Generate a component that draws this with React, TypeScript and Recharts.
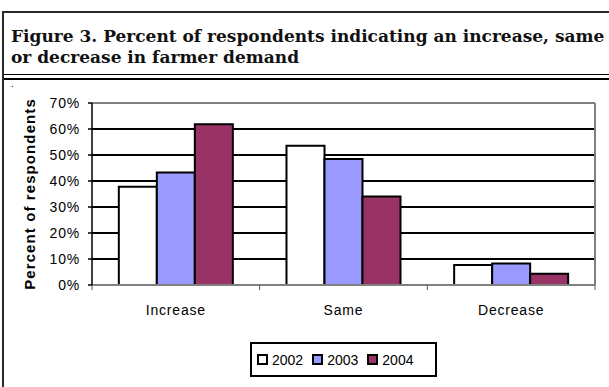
import {
  Bar,
  BarChart,
  CartesianGrid,
  Legend,
  ReferenceLine,
  XAxis,
  YAxis,
} from 'recharts'

const categories = ['Increase', 'Same', 'Decrease']
const years = ['2002', '2003', '2004']
const colors = ['#ffffff', '#9999ff', '#993366']
const values2002 = [37.8, 53.6, 7.7]
const values2003 = [43.3, 48.5, 8.3]
const values2004 = [61.8, 34, 4.3]
const yTicks = [0, 10, 20, 30, 40, 50, 60, 70]
const gridValues = [10, 20, 30, 40, 50, 60]

const data = categories.map((c, i) => ({
  category: c,
  y2002: values2002[i],
  y2003: values2003[i],
  y2004: values2004[i],
}))

const sans = '"Liberation Sans", Arial, sans-serif'
const serif = '"DejaVu Serif", serif'
const frameGray = '#808080'

// category label plus Excel-style tick marks on the band edges
function CategoryTick(props: any) {
  const { x, y, payload } = props
  const half = payload?.offset ?? 0
  const last = payload?.index === categories.length - 1
  return (
    <g>
      {half > 0 && <line x1={x - half} x2={x - half} y1={y} y2={y + 5} stroke="#555" />}
      {half > 0 && last && <line x1={x + half} x2={x + half} y1={y} y2={y + 5} stroke="#555" />}
      <text
        x={x}
        y={y + 30}
        textAnchor="middle"
        fill="#000"
        fontSize={14}
        fontFamily={sans}
        letterSpacing={0.8}
      >
        {payload?.value}
      </text>
    </g>
  )
}

function LegendBox({ payload }: { payload?: { value: string; color: string }[] }) {
  return (
    <div
      style={{
        boxSizing: 'border-box',
        width: 187,
        height: 35,
        border: '2px solid #000',
        background: '#fff',
        display: 'flex',
        alignItems: 'center',
        paddingLeft: 5,
        fontFamily: sans,
        fontSize: 14,
        color: '#000',
      }}
    >
      {(payload ?? []).map((p) => (
        <span key={p.value} style={{ display: 'flex', alignItems: 'center', marginRight: 9 }}>
          <span
            style={{
              boxSizing: 'border-box',
              width: 11,
              height: 11,
              border: '2px solid #000',
              background: p.color,
              marginRight: 4,
            }}
          />
          {p.value}
        </span>
      ))}
    </div>
  )
}

export default function App() {
  return (
    <div
      style={{
        position: 'absolute',
        left: 0,
        top: 0,
        width: 609,
        height: 387,
        background: '#fff',
        overflow: 'hidden',
      }}
    >
      {/* frame */}
      <div style={{ position: 'absolute', left: 2, top: 11, width: 2, height: 376, background: '#2a2a2a' }} />
      <div style={{ position: 'absolute', left: 2, top: 11, width: 607, height: 2, background: '#2a2a2a' }} />
      <div
        style={{
          position: 'absolute',
          left: 11,
          top: 26,
          width: 700,
          fontFamily: serif,
          fontWeight: 'bold',
          fontSize: 17,
          lineHeight: '21px',
          color: '#111',
          whiteSpace: 'nowrap',
        }}
      >
        Figure 3. Percent of respondents indicating an increase, same
        <br />
        or decrease in farmer demand
      </div>
      <div style={{ position: 'absolute', left: 4, top: 74, width: 605, height: 1, background: '#000' }} />
      <div style={{ position: 'absolute', left: 4, top: 78, width: 605, height: 2, background: '#000' }} />
      <div style={{ position: 'absolute', left: 11, top: 78, fontSize: 10, fontFamily: sans }}>.</div>

      <div style={{ position: 'absolute', left: 0, top: 0 }}>
        <BarChart
          width={609}
          height={387}
          data={data}
          margin={{ top: 103, right: 14, bottom: 62, left: 30 }}
          barCategoryGap="16%"
          barGap={0}
        >
          <CartesianGrid
            horizontal
            vertical={false}
            horizontalValues={gridValues}
            stroke="#000"
            strokeWidth={2}
          />
          <XAxis
            dataKey="category"
            axisLine={false}
            tickLine={false}
            tickSize={0}
            tickMargin={0}
            height={40}
            interval={0}
            tick={<CategoryTick />}
          />
          <YAxis
            domain={[0, 70]}
            ticks={yTicks}
            interval={0}
            width={62}
            tickSize={4}
            tickMargin={8}
            tickFormatter={(v) => `${v}%`}
            axisLine={{ stroke: '#000', strokeWidth: 1.5 }}
            tickLine={{ stroke: '#000', strokeWidth: 1.5 }}
            tick={{ fill: '#000', fontSize: 14, fontFamily: sans, letterSpacing: 0.8 }}
            label={{
              value: 'Percent of respondents',
              angle: -90,
              position: 'insideLeft',
              offset: 0,
              style: {
                textAnchor: 'middle',
                fontWeight: 'bold',
                fontSize: 15,
                letterSpacing: 1.1,
                fontFamily: sans,
                fill: '#000',
              },
            }}
          />
          <ReferenceLine y={70} stroke={frameGray} strokeWidth={2} />
          <ReferenceLine y={0} stroke={frameGray} strokeWidth={2} />
          <ReferenceLine x="Decrease" position="end" stroke={frameGray} strokeWidth={2} />
          {years.map((y, i) => (
            <Bar
              key={y}
              dataKey={`y${y}`}
              name={y}
              fill={colors[i]}
              stroke="#000"
              strokeWidth={2}
              isAnimationActive={false}
            />
          ))}
          <Legend
            layout="horizontal"
            verticalAlign="middle"
            align="center"
            wrapperStyle={{ left: 250, top: 342, width: 187, height: 35 }}
            content={(props: any) => <LegendBox payload={props.payload} />}
          />
        </BarChart>
      </div>
    </div>
  )
}
